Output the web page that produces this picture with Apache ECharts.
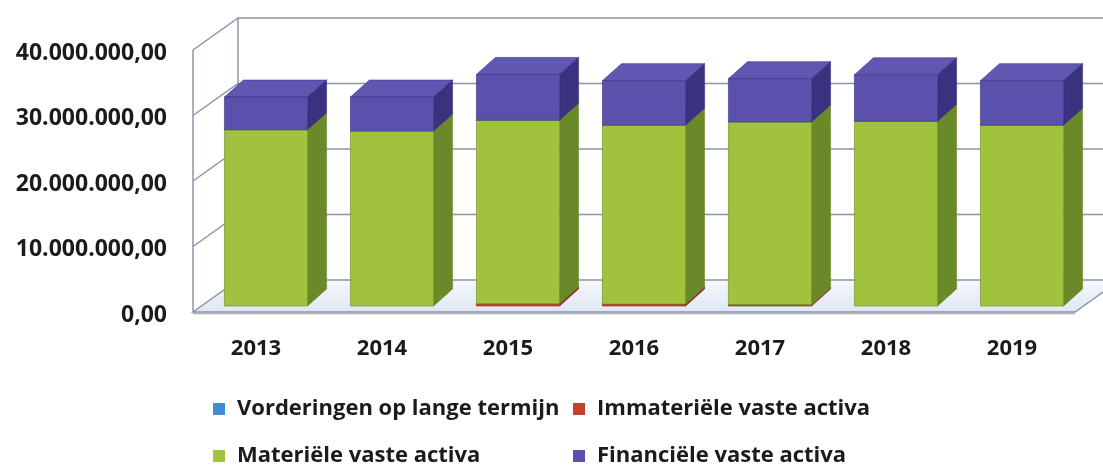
<!DOCTYPE html>
<html>
<head>
<meta charset="utf-8">
<script src="https://cdn.jsdelivr.net/npm/echarts@6/dist/echarts.min.js"></script>
<style>
  html, body { margin: 0; padding: 0; background: #ffffff; }
  #chart { width: 1103px; height: 468px; }
</style>
</head>
<body>
<div id="chart"></div>
<script>
// ---- data ----
const YEARS = ['2013', '2014', '2015', '2016', '2017', '2018', '2019'];
const VORDERINGEN = [0, 0, 0, 0, 0, 0, 0];
const IMMATERIEEL = [0, 0, 350000, 300000, 200000, 0, 0];
const MATERIEEL = [26900000, 26700000, 28000000, 27300000, 27900000, 28200000, 27600000];
const FINANCIEEL = [5000000, 5200000, 7000000, 6800000, 6600000, 7100000, 6800000];
const Y_TICKS = [0, 10000000, 20000000, 30000000, 40000000];
const SERIES_NAMES = ['Vorderingen op lange termijn', 'Immateriële vaste activa', 'Materiële vaste activa', 'Financiële vaste activa'];

// ---- style ----
const FONT = '"Open Sans", "DejaVu Sans", sans-serif';
const TEXT_COLOR = '#1b1b1b';
const WALL_DX = 45, WALL_DY = -32;      // back wall offset
const FRONT_DX = 10, FRONT_DY = -6;     // bar front face offset
const DEPTH_DX = 19, DEPTH_DY = -17;    // bar depth
const BAR_FRAC = 0.66;
const GRID_COLOR = '#8c95a6';

const PALETTE = [
  { front: '#3d8fd1', side: '#2a6aa3', top: '#5aa4de' },
  { front: '#c8402c', side: '#8f2a1c', top: '#d65a45' },
  { front: '#a0c23c', side: '#6a8a2a', top: '#add04c' },
  { front: '#5b51ad', side: '#3a327f', top: '#5f57b2' }
];

function fmt(v) {
  return Math.round(v).toString().replace(/\B(?=(\d{3})+(?!\d))/g, '.') + ',00';
}

// stacked data
const RAW = [VORDERINGEN, IMMATERIEEL, MATERIEEL, FINANCIEEL];
const base = YEARS.map(() => 0);
const STACKED = RAW.map(arr => arr.map((v, i) => {
  const lo = base[i];
  base[i] += v;
  return [i, lo, lo + v];
}));

function boxRenderer(pal) {
  return function (params, api) {
    const i = api.value(0), lo = api.value(1), hi = api.value(2);
    if (hi - lo <= 0) return;
    const band = api.size([1, 0])[0];
    const w = band * BAR_FRAC;
    const pLo = api.coord([i, lo]);
    const pHi = api.coord([i, hi]);
    const x0 = pLo[0] - w / 2 + FRONT_DX;
    const x1 = x0 + w;
    const yb = pLo[1] + FRONT_DY;
    const yt = pHi[1] + FRONT_DY;
    return {
      type: 'group',
      children: [
        { type: 'polygon', shape: { points: [[x0, yt], [x1, yt], [x1 + DEPTH_DX, yt + DEPTH_DY], [x0 + DEPTH_DX, yt + DEPTH_DY]] },
          style: { fill: pal.top, stroke: pal.side, lineWidth: 0.6 } },
        { type: 'polygon', shape: { points: [[x1, yb], [x1 + DEPTH_DX, yb + DEPTH_DY], [x1 + DEPTH_DX, yt + DEPTH_DY], [x1, yt]] },
          style: { fill: pal.side, stroke: pal.side, lineWidth: 0.6 } },
        { type: 'rect', shape: { x: x0, y: yt, width: w, height: yb - yt },
          style: { fill: pal.front, stroke: pal.side, lineWidth: 0.6 } }
      ]
    };
  };
}

function frameRenderer(params, api) {
  const cs = params.coordSys;
  const v = api.value(0);
  const y = api.coord([0, v])[1];
  const xl = cs.x, xr = cs.x + cs.width;
  const children = [];
  if (v === 0) {
    children.push({
      type: 'polygon',
      shape: { points: [[xl, y], [xr, y], [xr + WALL_DX, y + WALL_DY], [xl + WALL_DX, y + WALL_DY]] },
      style: {
        fill: new echarts.graphic.LinearGradient(0, 0, 0, 1, [
          { offset: 0, color: '#f6f8fc' }, { offset: 1, color: '#dfe6f4' }
        ]),
        stroke: GRID_COLOR, lineWidth: 1.5
      }
    });
    children.push({ type: 'line', shape: { x1: xl, y1: y + 1.5, x2: xr, y2: y + 1.5 },
      style: { stroke: '#a9afbb', lineWidth: 1.5 } });
  } else {
    children.push({
      type: 'polyline',
      shape: { points: [[xl, y], [xl + WALL_DX, y + WALL_DY], [xr + WALL_DX, y + WALL_DY]] },
      style: { fill: null, stroke: GRID_COLOR, lineWidth: 1.5 }
    });
  }
  if (v === Y_TICKS[Y_TICKS.length - 1]) {
    const y0 = api.coord([0, 0])[1];
    children.push({ type: 'line', shape: { x1: xl, y1: y, x2: xl, y2: y0 },
      style: { stroke: GRID_COLOR, lineWidth: 1.5 } });
    children.push({ type: 'line', shape: { x1: xl + WALL_DX, y1: y + WALL_DY, x2: xl + WALL_DX, y2: y0 + WALL_DY },
      style: { stroke: GRID_COLOR, lineWidth: 1.5 } });
  }
  return { type: 'group', children: children };
}

const chart = echarts.init(document.getElementById('chart'), null, { renderer: 'canvas' });

const legendBase = {
  padding: 0,
  itemWidth: 12, itemHeight: 12, icon: 'rect',
  selectedMode: false,
  textStyle: { fontFamily: FONT, fontSize: 22, fontWeight: 'bold', color: TEXT_COLOR, padding: [0, 0, 0, 7] }
};

const series = [{
  type: 'custom',
  name: 'frame',
  renderItem: frameRenderer,
  data: Y_TICKS.map(v => [v]),
  encode: { x: -1, y: 0 },
  silent: true,
  z: 1
}];
STACKED.forEach((data, k) => {
  series.push({
    type: 'custom',
    name: SERIES_NAMES[k],
    renderItem: boxRenderer(PALETTE[k]),
    itemStyle: { color: PALETTE[k].front },
    encode: { x: 0, y: [1, 2] },
    data: data,
    z: 2 + k
  });
});

chart.setOption({
  animation: false,
  backgroundColor: '#ffffff',
  grid: { left: 193, right: 28, top: 50, bottom: 156, containLabel: false },
  xAxis: {
    type: 'category',
    data: YEARS,
    axisLine: { show: false },
    axisTick: { show: false },
    axisLabel: { margin: 26, fontFamily: FONT, fontSize: 22, fontWeight: 'bold', color: TEXT_COLOR }
  },
  yAxis: {
    type: 'value',
    min: 0, max: 40000000, interval: 10000000,
    axisLine: { show: false },
    axisTick: { show: false },
    splitLine: { show: false },
    axisLabel: { margin: 26, fontFamily: FONT, fontSize: 23, fontWeight: 'bold', color: TEXT_COLOR,
      formatter: fmt, verticalAlign: 'top', lineHeight: 6 }
  },
  legend: [
    Object.assign({}, legendBase, { data: [SERIES_NAMES[0]], left: 213, top: 398 }),
    Object.assign({}, legendBase, { data: [SERIES_NAMES[1]], left: 573, top: 398 }),
    Object.assign({}, legendBase, { data: [SERIES_NAMES[2]], left: 213, top: 445 }),
    Object.assign({}, legendBase, { data: [SERIES_NAMES[3]], left: 573, top: 445 })
  ],
  series: series
});
</script>
</body>
</html>
